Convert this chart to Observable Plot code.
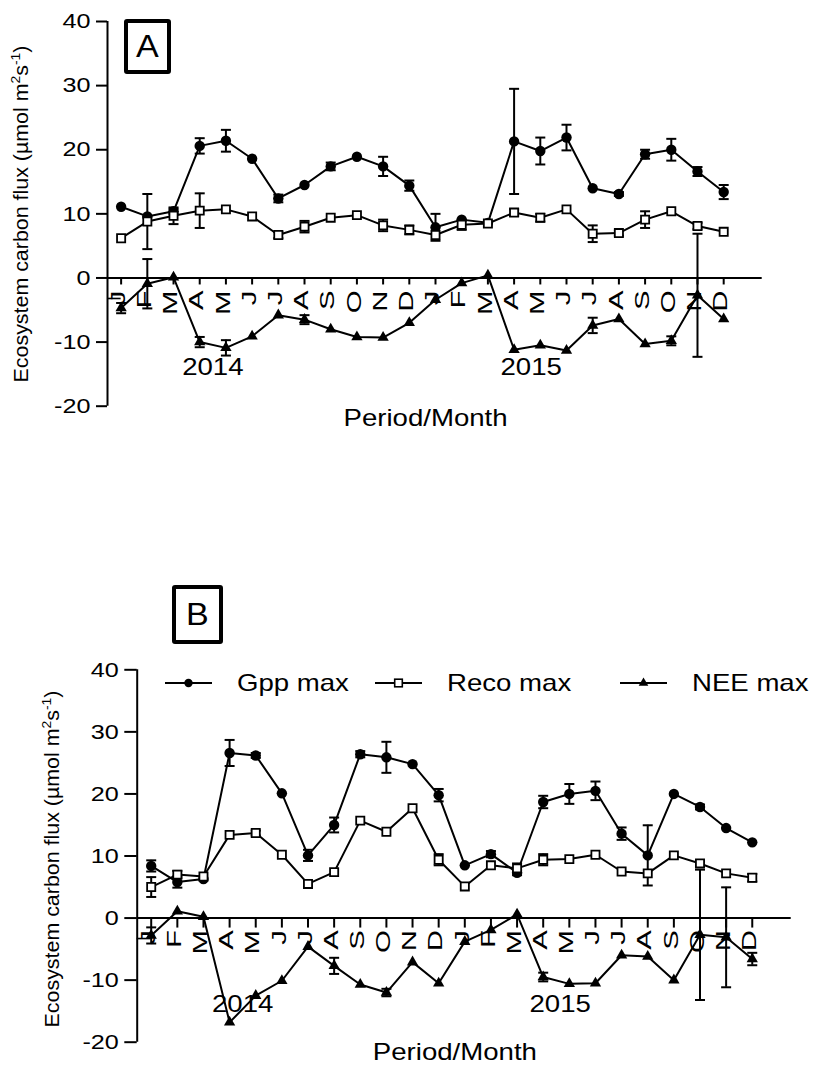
<!DOCTYPE html>
<html>
<head>
<meta charset="utf-8">
<script src="https://cdn.jsdelivr.net/npm/d3@7"></script>
<script src="https://cdn.jsdelivr.net/npm/@observablehq/plot@0.6"></script>
<style>
  body { margin: 0; background: #fff; }
  #fig { position: relative; width: 816px; height: 1074px; font-family: "Liberation Sans", Arial, sans-serif; color: #000; }
  #fig svg.panel { position: absolute; left: 0; }
  .ylab { position: absolute; white-space: nowrap; font-size: 20px; transform: translate(-50%, -50%) rotate(-90deg) scaleX(1.07); }
  .ylab sup { font-size: 13px; vertical-align: 0.6em; line-height: 0; }
  .tag { position: absolute; box-sizing: border-box; border: 4px solid #000; border-radius: 3px; display: flex; align-items: center; justify-content: center; font-size: 31px; line-height: 1; }
  .tag span { display: inline-block; transform: scaleX(1.1); }
  #legend { position: absolute; left: 0; top: 663px; }
</style>
</head>
<body>
<div id="fig"></div>
<script>
// Month letters on the time axis and the two years they span
const monthLetters = ["J", "F", "M", "A", "M", "J", "J", "A", "S", "O", "N", "D"];
const yearLabels = ["2014", "2015"];
const yTicks = [-20, -10, 0, 10, 20, 30, 40];
const seriesNames = ["Gpp max", "Reco max", "NEE max"];

// Panel A — monthly fluxes (µmol m-2 s-1), Jan 2014 … Dec 2015, with error half-widths
const gppA    = [11.1, 9.6, 10.4, 20.6, 21.4, 18.6, 12.4, 14.5, 17.4, 18.9, 17.4, 14.4, 7.9, 9.1, 8.6, 21.3, 19.8, 21.9, 14.0, 13.1, 19.3, 20.0, 16.6, 13.4];
const gppAErr = [0, 0, 0.4, 1.2, 1.7, 0, 0.6, 0, 0.6, 0, 1.5, 0.8, 2.1, 0, 0, 8.2, 2.1, 2.0, 0, 0.3, 0.7, 1.7, 0.7, 1.1];
const recoA    = [6.2, 8.8, 9.7, 10.5, 10.7, 9.6, 6.7, 8.0, 9.4, 9.8, 8.2, 7.5, 6.7, 8.3, 8.5, 10.2, 9.4, 10.7, 6.9, 7.0, 9.1, 10.4, 8.1, 7.2];
const recoAErr = [0, 4.3, 1.3, 2.7, 0, 0, 0.5, 0.9, 0, 0, 0.9, 0.7, 0, 0.8, 0, 0.5, 0.6, 0, 1.3, 0.4, 1.3, 0, 0.5, 0];
const neeA    = [-4.7, -0.9, 0.1, -10.0, -10.9, -9.1, -5.8, -6.5, -8.0, -9.2, -9.3, -7.0, -3.4, -0.8, 0.4, -11.2, -10.5, -11.3, -7.4, -6.4, -10.3, -9.8, -2.7, -6.4];
const neeAErr = [0.8, 3.85, 0, 0.8, 1.2, 0, 0, 0.7, 0, 0, 0, 0, 0, 0, 0, 0, 0, 0, 1.2, 0, 0, 0.7, 9.6, 0];

// Panel B
const gppB    = [8.4, 5.8, 6.3, 26.6, 26.2, 20.1, 10.1, 15.0, 26.4, 25.9, 24.8, 19.8, 8.5, 10.3, 7.3, 18.7, 20.0, 20.5, 13.6, 10.1, 20.0, 17.9, 14.5, 12.2];
const gppBErr = [0.9, 0.9, 0, 2.1, 0.4, 0, 0.9, 1.2, 0.5, 2.5, 0, 1.0, 0, 0.5, 0.4, 1.0, 1.6, 1.5, 1.0, 4.85, 0, 0.4, 0, 0];
const recoB    = [5.0, 7.0, 6.7, 13.4, 13.7, 10.2, 5.5, 7.4, 15.7, 13.9, 17.7, 9.4, 5.1, 8.5, 8.0, 9.4, 9.5, 10.2, 7.5, 7.2, 10.1, 8.8, 7.2, 6.5];
const recoBErr = [1.6, 0.6, 0, 0, 0.4, 0, 0.4, 0, 0, 0, 0, 0.9, 0, 0, 0.8, 0.9, 0, 0, 0, 0, 0, 0.4, 0, 0.6];
const neeB    = [-2.8, 1.1, 0.2, -16.8, -12.5, -10.1, -4.6, -7.7, -10.7, -12.0, -7.1, -10.5, -3.8, -1.9, 0.6, -9.5, -10.6, -10.5, -6.0, -6.2, -10.0, -2.7, -3.1, -6.6];
const neeBErr = [1.3, 0, 0, 0, 0, 0, 0, 1.3, 0, 0.6, 0, 0, 0, 0, 0, 0.7, 0, 0, 0, 0, 0, 10.5, 8.05, 1.0];

const FONT = '"Liberation Sans", Arial, sans-serif';
const fig = document.getElementById("fig");

// 24 consecutive months
const periods = yearLabels.flatMap(year => monthLetters.map(m => ({year, month: m})));

// horizontal whisker cap drawn as a dot symbol so it keeps a fixed pixel width
const capSymbol = {
  draw(ctx, size) {
    const r = Math.sqrt(size / Math.PI);
    ctx.moveTo(-r, 0);
    ctx.lineTo(r, 0);
  }
};

function drawPanel(cfg) {
  const rows = periods.map((p, i) => ({
    i, month: p.month,
    gpp: cfg.gpp[i], gppErr: cfg.gppErr[i],
    reco: cfg.reco[i], recoErr: cfg.recoErr[i],
    nee: cfg.nee[i], neeErr: cfg.neeErr[i]
  }));
  const series = [
    {key: "gpp", err: "gppErr", marker: {r: 5.2, fill: "black"}},
    {key: "reco", err: "recoErr", marker: {symbol: "square", r: 4.6, fill: "white", stroke: "black", strokeWidth: 1.8}},
    {key: "nee", err: "neeErr", marker: {symbol: "triangle", r: 4.2, fill: "black"}}
  ];

  const lineMarks = series.map(s => Plot.line(rows, {x: "i", y: s.key, stroke: "black", strokeWidth: 2}));
  const errMarks = series.flatMap(s => {
    const withErr = rows.filter(d => d[s.err] > 0);
    const lo = d => d[s.key] - d[s.err];
    const hi = d => d[s.key] + d[s.err];
    const cap = {x: "i", symbol: capSymbol, r: 5, fill: "none", stroke: "black", strokeWidth: 2};
    return [
      Plot.ruleX(withErr, {x: "i", y1: lo, y2: hi, stroke: "black", strokeWidth: 2}),
      Plot.dot(withErr, {...cap, y: hi}),
      Plot.dot(withErr, {...cap, y: lo})
    ];
  });
  const markerMarks = series.map(s => Plot.dot(rows, {x: "i", y: s.key, ...s.marker}));

  const x0 = cfg.xDomain[0];
  const plot = Plot.plot({
    width: 816,
    height: cfg.height,
    marginTop: cfg.marginTop,
    marginBottom: cfg.marginBottom,
    marginLeft: cfg.marginLeft,
    marginRight: cfg.marginRight,
    x: {domain: cfg.xDomain, axis: null},
    y: {domain: [yTicks[0], yTicks[yTicks.length - 1]]},
    style: {fontFamily: FONT, fontSize: "21px", color: "black", background: "transparent", overflow: "visible"},
    marks: [
      // axis spine and zero line
      Plot.ruleX([x0], {y1: yTicks[0], y2: yTicks[yTicks.length - 1], stroke: "black", strokeWidth: 2}),
      Plot.ruleY([0], {stroke: "black", strokeWidth: 2}),
      Plot.ruleY([cfg.stub], {x1: x0, x2: 0, stroke: "black", strokeWidth: 1.6}),
      Plot.axisY({ticks: yTicks, tickFormat: d => String(d), tickSize: cfg.tickSize, tickPadding: 6, strokeWidth: 2, fontSize: 21, label: null}),
      // month ticks and letters hanging below the zero line
      Plot.ruleX(rows, {x: "i", y1: 0, y2: 0, insetBottom: -cfg.monthTick, stroke: "black", strokeWidth: 2}),
      Plot.text(rows, {x: "i", y: 0, text: "month", rotate: -90, textAnchor: "end", dy: cfg.monthDy, dx: -3, fontSize: 21}),
      // year and axis title
      Plot.text(yearLabels, {x: (d, k) => 12 * k + 3.5 + 0.15 * k, frameAnchor: "bottom", dy: cfg.yearDy, text: d => d, fontSize: 23}),
      Plot.text(["Period/Month"], {x: 11.62, frameAnchor: "bottom", dy: cfg.titleDy, text: d => d, fontSize: 23}),
      ...lineMarks,
      ...errMarks,
      ...markerMarks
    ]
  });
  plot.classList.add("panel");
  plot.style.top = cfg.top + "px";
  fig.appendChild(plot);

  // widen glyphs horizontally, in each text's own frame
  plot.querySelectorAll("text").forEach(t => {
    const tr = t.getAttribute("transform") || "";
    const k = tr.includes("rotate") ? 1.4 : 1.2;
    t.setAttribute("transform", tr + ` scale(${k},1)`);
  });
  return plot;
}

drawPanel({
  top: 0, height: 440, marginTop: 21, marginBottom: 34.3, marginLeft: 107, marginRight: 54.3,
  xDomain: [-0.52, 24.47], tickSize: 11, monthTick: 7, monthDy: 12.5, yearDy: -31, titleDy: 19.5, stub: -3.2,
  gpp: gppA, gppErr: gppAErr, reco: recoA, recoErr: recoAErr, nee: neeA, neeErr: neeAErr
});
drawPanel({
  top: 560, height: 514, marginTop: 109.3, marginBottom: 32.3, marginLeft: 136.7, marginRight: 25.3,
  xDomain: [-0.536, 24.49], tickSize: 12.4, monthTick: 10, monthDy: 12, yearDy: -30, titleDy: 17.5, stub: -3.3,
  gpp: gppB, gppErr: gppBErr, reco: recoB, recoErr: recoBErr, nee: neeB, neeErr: neeBErr
});

// y-axis titles
function yTitle(cx, cy) {
  const d = document.createElement("div");
  d.className = "ylab";
  d.style.left = cx + "px";
  d.style.top = cy + "px";
  d.innerHTML = "Ecosystem carbon flux (µmol m<sup>2</sup>s<sup>-1</sup>)";
  fig.appendChild(d);
}
yTitle(21, 213.5);
yTitle(52, 858.5);

// boxed panel letters
function tag(letter, left, top, w, h) {
  const d = document.createElement("div");
  d.className = "tag";
  Object.assign(d.style, {left: left + "px", top: top + "px", width: w + "px", height: h + "px"});
  const s = document.createElement("span");
  s.textContent = letter;
  d.appendChild(s);
  fig.appendChild(d);
}
tag("A", 124, 19, 47, 55);
tag("B", 172, 585, 51, 59);

// legend of panel B
const legend = d3.select(fig).append("svg")
  .attr("id", "legend").attr("width", 816).attr("height", 40);
const legendItems = [
  {name: seriesNames[0], x: 165, kind: "circle"},
  {name: seriesNames[1], x: 375, kind: "square"},
  {name: seriesNames[2], x: 620, kind: "triangle"}
];
legendItems.forEach(it => {
  const g = legend.append("g").attr("transform", `translate(${it.x},20)`);
  g.append("line").attr("x1", 0).attr("x2", 47).attr("stroke", "black").attr("stroke-width", 2);
  const c = 23.5;
  if (it.kind === "circle") g.append("circle").attr("cx", c).attr("r", 4.2).attr("fill", "black");
  if (it.kind === "square") g.append("rect").attr("x", c - 3.8).attr("y", -3.8).attr("width", 7.6).attr("height", 7.6)
    .attr("fill", "white").attr("stroke", "black").attr("stroke-width", 1.6);
  if (it.kind === "triangle") g.append("path").attr("d", d3.symbol(d3.symbolTriangle, 40)()).attr("transform", `translate(${c},0)`).attr("fill", "black");
  g.append("text").attr("transform", "translate(72,0) scale(1.2,1)").attr("dy", "0.35em")
    .attr("font-family", FONT).attr("font-size", 23).text(it.name);
});
</script>
</body>
</html>
